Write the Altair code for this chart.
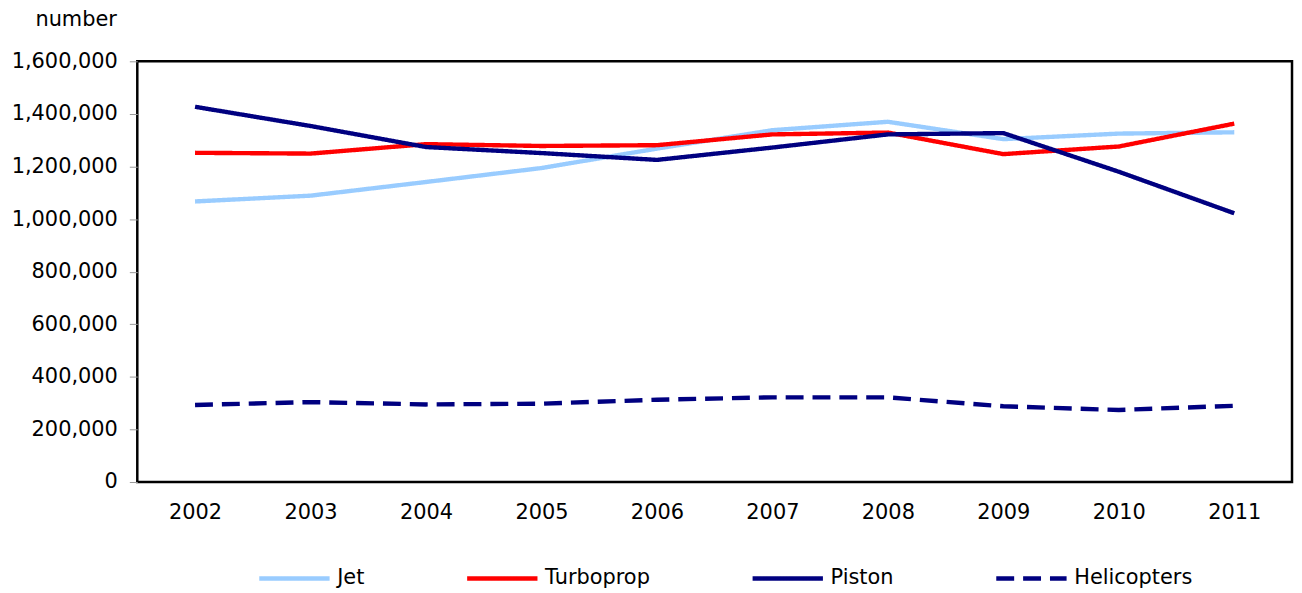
import altair as alt
import pandas as pd

years = ["2002", "2003", "2004", "2005", "2006", "2007", "2008", "2009", "2010", "2011"]
jet = [1067000, 1089000, 1141000, 1194000, 1268000, 1338000, 1370000, 1304000, 1325000, 1330000]
turboprop = [1252000, 1249000, 1285000, 1278000, 1281000, 1322000, 1329000, 1247000, 1276000, 1363000]
piston = [1427000, 1354000, 1274000, 1251000, 1225000, 1272000, 1322000, 1327000, 1180000, 1022000]
helicopters = [293000, 304000, 295000, 298000, 313000, 322000, 322000, 288000, 274000, 290000]

series_names = ["Jet", "Turboprop", "Piston", "Helicopters"]
series_values = [jet, turboprop, piston, helicopters]
colors = ["#99CCFF", "#FF0000", "#000080", "#000080"]
dashes = [[1, 0], [1, 0], [1, 0], [18, 9]]
widths = [4.4, 4.4, 4.4, 2]
y_ticks = [0, 200000, 400000, 600000, 800000, 1000000, 1200000, 1400000, 1600000]

rows = []
for k, (name, vals) in enumerate(zip(series_names, series_values)):
    for i, (yr, v) in enumerate(zip(years, vals)):
        rows.append({"year": yr, "value": v, "series": name, "order": k})
df = pd.DataFrame(rows)

FONT = "DejaVu Sans"
FS = 21

legend = alt.Legend(
    title=None,
    orient="none",
    direction="horizontal",
    legendX=120,
    legendY=482,
    symbolType="stroke",
    symbolSize=5000,
    labelFontSize=FS,
    labelFont=FONT,
    labelColor="#000000",
    labelOffset=5,
    columnPadding=93,
    labelLimit=300,
)

chart = alt.Chart(df).mark_line(strokeCap="butt", strokeJoin="miter").encode(
    x=alt.X(
        "year:O",
        sort=years,
        scale=alt.Scale(padding=0.5),
        axis=alt.Axis(
            title=None,
            labelAngle=0,
            labelFont=FONT,
            labelFontSize=FS,
            labelColor="#000000",
            labelPadding=20,
            ticks=False,
            domain=False,
        ),
    ),
    y=alt.Y(
        "value:Q",
        scale=alt.Scale(domain=[0, 1600000], nice=False),
        axis=alt.Axis(
            title="number",
            titleAngle=0,
            titleX=-62,
            titleY=-42,
            titleAlign="center",
            titleBaseline="middle",
            titleFont=FONT,
            titleFontSize=FS,
            titleFontWeight="normal",
            titleColor="#000000",
            values=y_ticks,
            format=",d",
            labelFont=FONT,
            labelFontSize=FS,
            labelColor="#000000",
            labelPadding=12,
            tickSize=8,
            tickColor="#999999",
            domain=False,
            grid=False,
        ),
    ),
    color=alt.Color("series:N", scale=alt.Scale(domain=series_names, range=colors), legend=legend),
    strokeDash=alt.StrokeDash("series:N", scale=alt.Scale(domain=series_names, range=dashes), legend=legend),
    strokeWidth=alt.StrokeWidth("series:N", scale=alt.Scale(domain=series_names, range=widths), legend=legend),
    order=alt.Order("order:Q"),
).properties(
    width=1161,
    height=423,
    autosize=alt.AutoSizeParams(type="none"),
    padding={"left": 130, "top": 52, "right": 2, "bottom": 110},
).configure(
    background="#ffffff",
).configure_view(
    stroke="#000000",
    strokeWidth=2.5,
)

chart.save("out.html", embed_options={"renderer": "svg", "actions": False})
